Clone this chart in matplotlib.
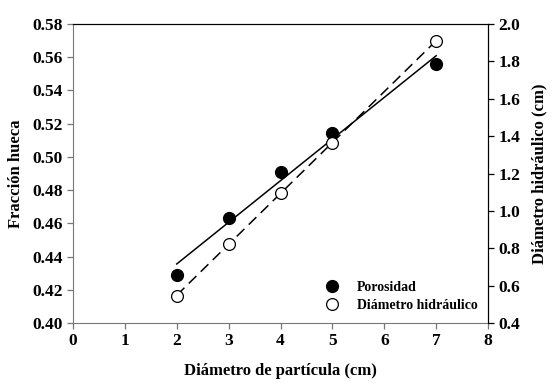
import numpy as np
import matplotlib
matplotlib.use("Agg")
import matplotlib.pyplot as plt

# datos
diametro_particula = [2, 3, 4, 5, 7]
porosidad = [0.429, 0.463, 0.491, 0.5145, 0.556]
diam_hidraulico = [0.546, 0.823, 1.096, 1.365, 1.909]

x_ticks = [0, 1, 2, 3, 4, 5, 6, 7, 8]
y1_ticks = [0.40, 0.42, 0.44, 0.46, 0.48, 0.50, 0.52, 0.54, 0.56, 0.58]
y2_ticks = [0.4, 0.6, 0.8, 1.0, 1.2, 1.4, 1.6, 1.8, 2.0]

plt.rcParams['font.family'] = ['Liberation Serif', 'DejaVu Serif']
plt.rcParams['font.weight'] = 'bold'

fig = plt.figure(figsize=(5.53, 3.86), dpi=100)
ax = fig.add_axes([0.132, 0.163, 0.7505, 0.775])
ax2 = ax.twinx()

x = np.array(diametro_particula)
xx = np.array([min(x), max(x)])

# ajustes lineales
p1 = np.polyfit(x, porosidad, 1)
p2 = np.polyfit(x, diam_hidraulico, 1)

ax.plot(xx, np.polyval(p1, xx), color='black', lw=1.1, zorder=2)
l1, = ax.plot(x, porosidad, 'o', color='black', ms=8.5, zorder=3)

ax2.plot(xx, np.polyval(p2, xx), color='black', lw=1.1, ls=(0, (7, 4)), zorder=2)
l2, = ax2.plot(x, diam_hidraulico, 'o', mfc='white', mec='black', mew=0.9, ms=8.5, zorder=3)

ax.set_xlim(0, 8)
ax.set_ylim(0.40, 0.58)
ax2.set_ylim(0.4, 2.0)
ax.set_xticks(x_ticks)
ax.set_yticks(y1_ticks)
ax2.set_yticks(y2_ticks)
ax.set_xticklabels([str(t) for t in x_ticks])
ax.set_yticklabels(['%.2f' % t for t in y1_ticks])
ax2.set_yticklabels(['%.1f' % t for t in y2_ticks])

for a in (ax, ax2):
    a.tick_params(direction='out', length=4, width=0.9, labelsize=12.5)
ax.tick_params(axis='both', colors='#777777', labelcolor='black')
ax2.tick_params(axis='y', colors='black')

ax.spines['left'].set_color('#777777')
ax.spines['bottom'].set_color('#777777')
ax2.spines['left'].set_visible(False)
ax2.spines['bottom'].set_visible(False)
ax2.spines['right'].set_color('black')
ax2.spines['top'].set_color('black')

ax.set_xlabel('Diámetro de partícula (cm)', fontsize=12, fontweight='bold', labelpad=10)
ax.set_ylabel('Fracción hueca', fontsize=12, fontweight='bold', labelpad=6)
ax2.set_ylabel('Diámetro hidráulico (cm)', fontsize=12, fontweight='bold', labelpad=8)

ax2.legend([l1, l2], ['Porosidad', 'Diámetro hidráulico'], loc='lower right',
           bbox_to_anchor=(1.005, -0.005), frameon=False, prop={'size': 10, 'weight': 'bold'},
           handletextpad=0.8, labelspacing=0.35)

fig.savefig('out.png', dpi=100)
